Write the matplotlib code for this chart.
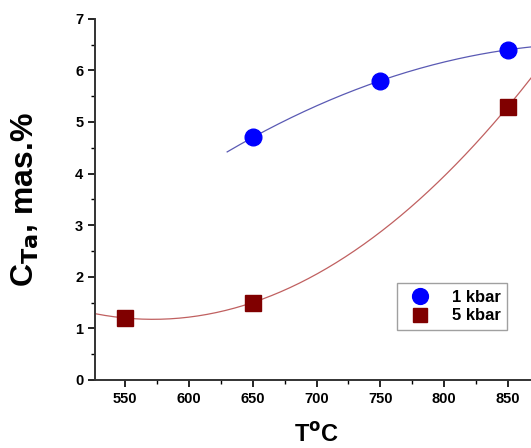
import numpy as np
import matplotlib
matplotlib.use('Agg')
import matplotlib.pyplot as plt
from matplotlib.ticker import MultipleLocator

plt.rcParams['font.family'] = ['Liberation Sans', 'DejaVu Sans']
plt.rcParams['font.weight'] = 'bold'
plt.rcParams['mathtext.default'] = 'bf'

# data
t_1kbar = [650, 750, 850]
c_1kbar = [4.7, 5.8, 6.4]
t_5kbar = [550, 650, 850]
c_5kbar = [1.2, 1.5, 5.3]

fig = plt.figure(figsize=(5.31, 4.48), dpi=100)
ax = fig.add_axes([0.179, 0.152, 0.821, 0.806])

# quadratic fit curves as in the original
p1 = np.polyfit(t_1kbar, c_1kbar, 2)
x1 = np.linspace(630, 880, 200)
ax.plot(x1, np.polyval(p1, x1), color='#5a5ab4', lw=0.9)
p5 = np.polyfit(t_5kbar, c_5kbar, 2)
x5 = np.linspace(520, 880, 200)
ax.plot(x5, np.polyval(p5, x5), color='#c06060', lw=0.9)

ax.plot(t_1kbar, c_1kbar, 'o', color='#0000ff', ms=12, ls='none', label='1 kbar')
ax.plot(t_5kbar, c_5kbar, 's', color='#800000', ms=11, ls='none', label='5 kbar')

ax.set_xlim(526.5, 868)
ax.set_ylim(0, 7)
ax.xaxis.set_major_locator(MultipleLocator(50))
ax.xaxis.set_minor_locator(MultipleLocator(25))
ax.yaxis.set_major_locator(MultipleLocator(1))
ax.yaxis.set_minor_locator(MultipleLocator(0.5))
ax.tick_params(which='major', direction='out', length=5, width=1.2, labelsize=10.5)
ax.tick_params(which='minor', direction='out', length=3, width=1.0)
for lbl in ax.get_xticklabels() + ax.get_yticklabels():
    lbl.set_fontweight('bold')

for s in ['top', 'right']:
    ax.spines[s].set_visible(False)
for s in ['left', 'bottom']:
    ax.spines[s].set_linewidth(1.4)
    ax.spines[s].set_color('#333333')

ax.set_ylabel('C$_{\\mathbf{Ta}}$, mas.%', fontsize=23, fontweight='bold')
ax.set_xlabel('T$^{\\mathbf{o}}$C', fontsize=17, fontweight='bold')
ax.yaxis.set_label_coords(-0.125, 0.5)
ax.xaxis.set_label_coords(0.507, -0.12)

leg = ax.legend(loc='lower right', bbox_to_anchor=(0.965, 0.115), fontsize=12,
                frameon=True, fancybox=False, edgecolor='#888888',
                handletextpad=0.9, borderpad=0.4, labelspacing=0.2, numpoints=1,
                markerscale=0.95)
for t in leg.get_texts():
    t.set_fontweight('bold')

fig.savefig('out.png', dpi=100)
